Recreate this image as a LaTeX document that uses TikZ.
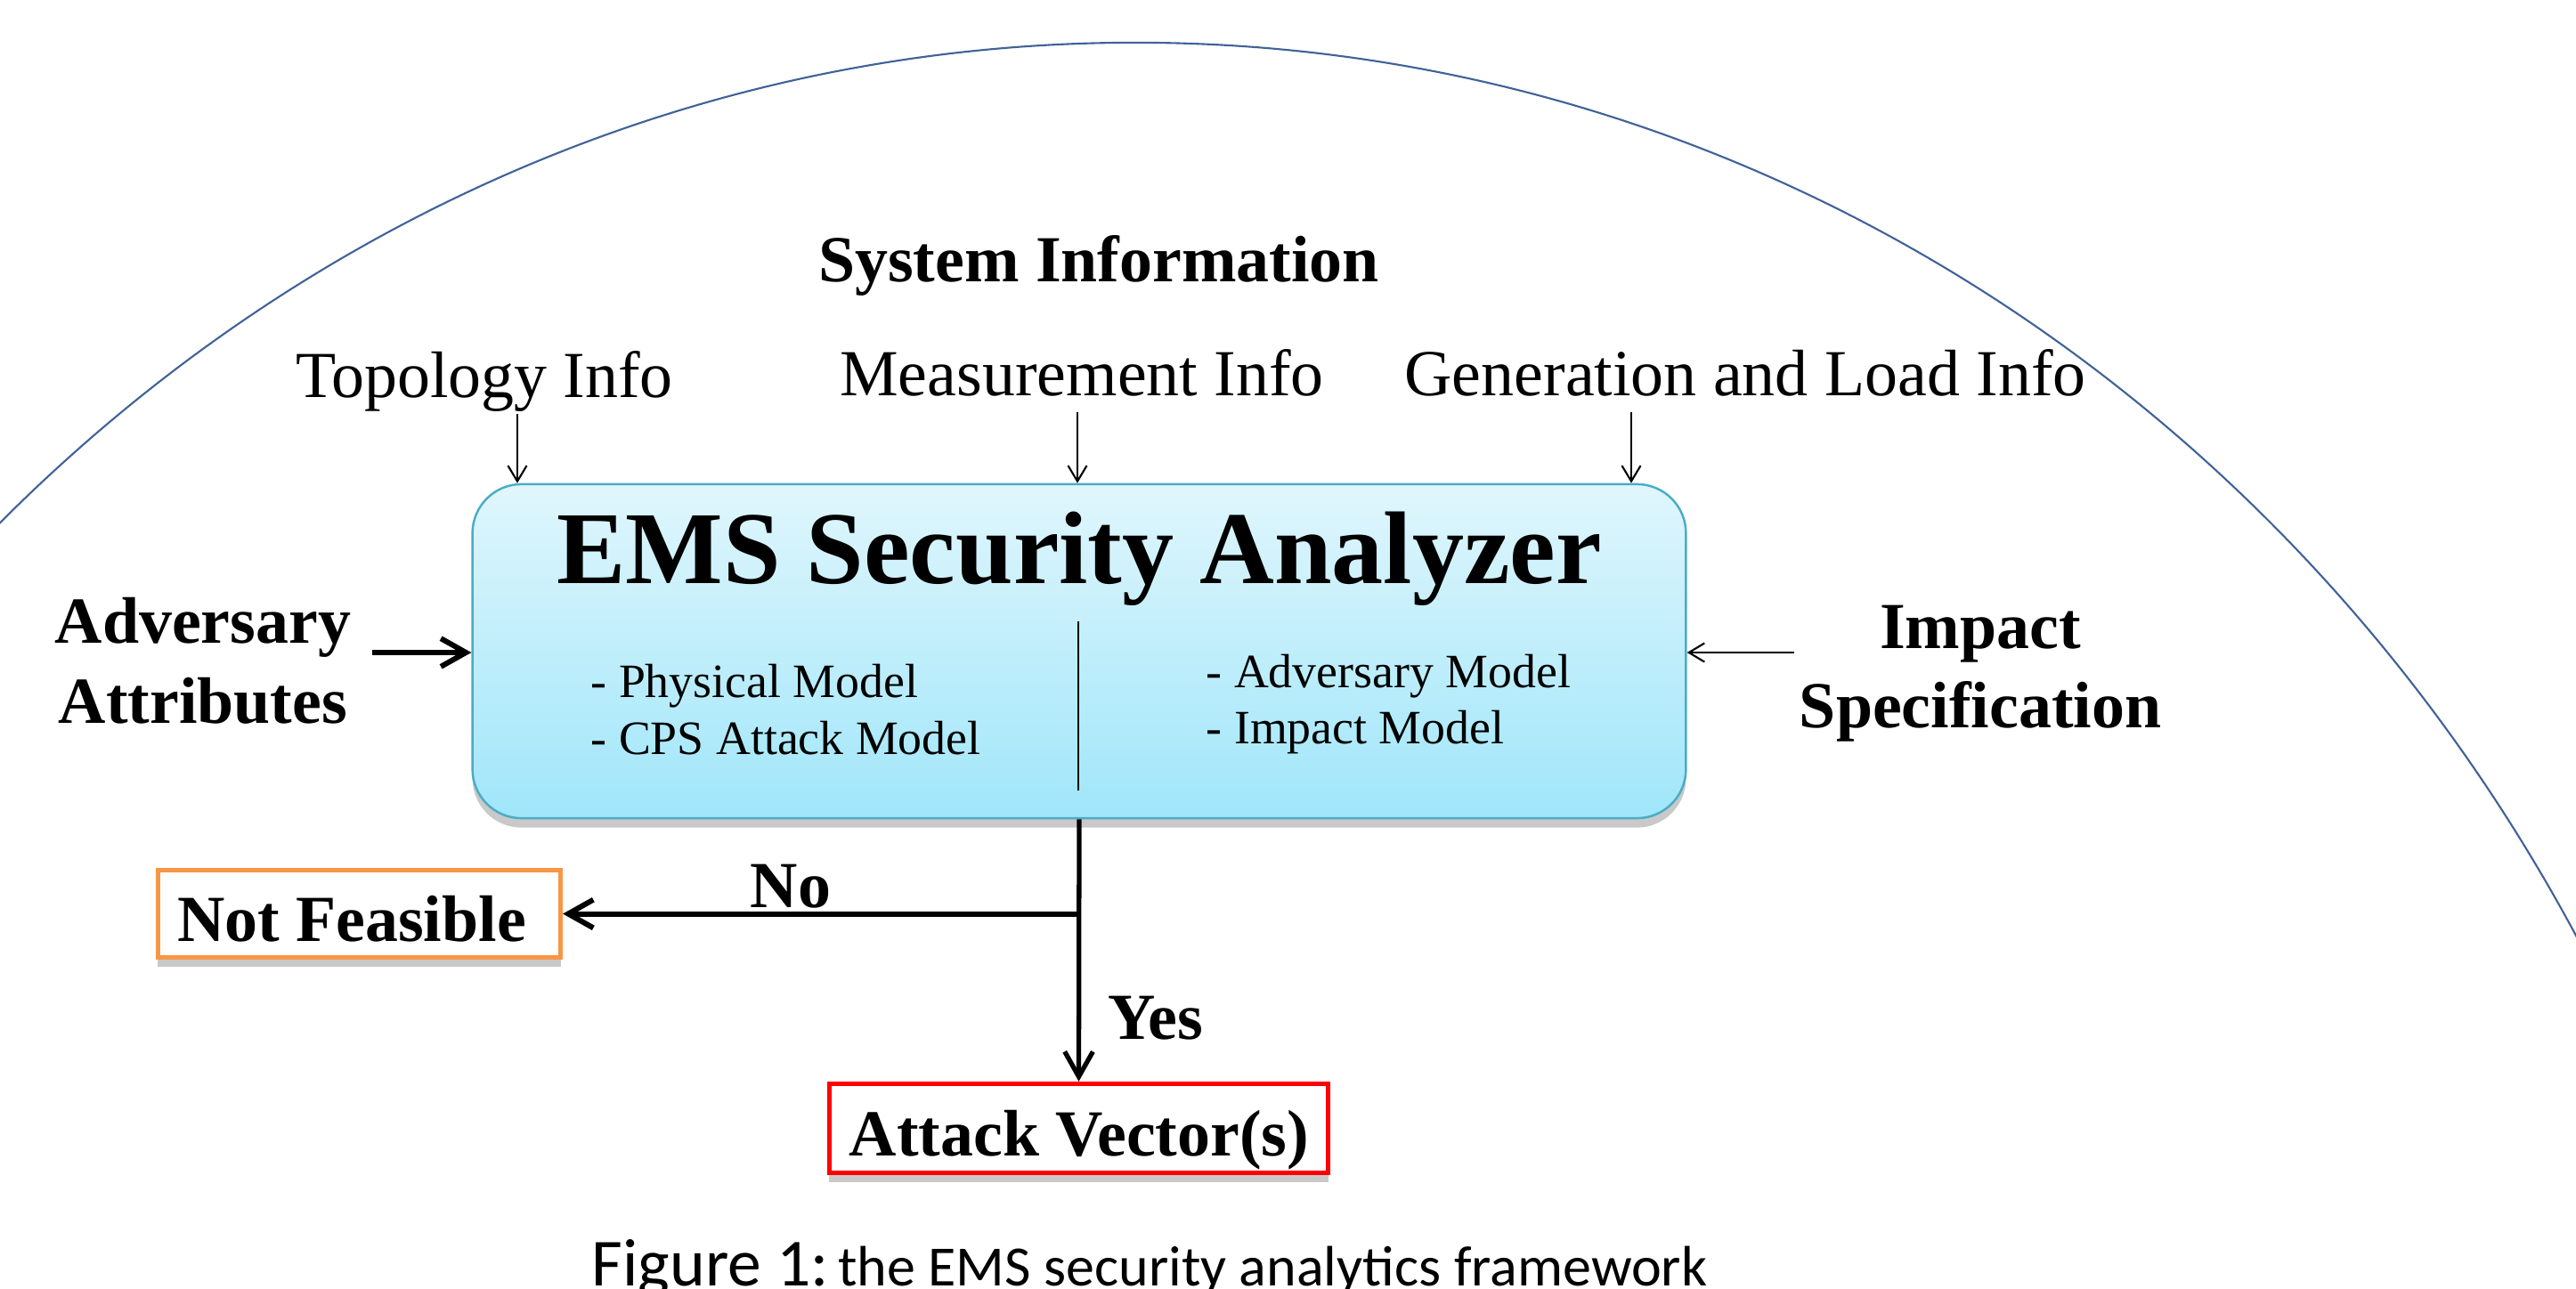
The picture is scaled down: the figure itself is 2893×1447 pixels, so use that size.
\documentclass[tikz,border=0pt]{standalone}
\usepackage{fontspec}
\setmainfont{Liberation Serif}
\newfontfamily\capfont{Carlito}
\usetikzlibrary{arrows.meta,shadows}
\definecolor{arcblue}{RGB}{64,98,152}
\definecolor{boxtop}{RGB}{224,246,252}
\definecolor{boxbot}{RGB}{160,230,250}
\definecolor{boxline}{RGB}{75,172,198}
\definecolor{nforange}{RGB}{247,150,70}
\begin{document}
\begin{tikzpicture}[x=0.01cm,y=-0.01cm,
  lab/.style={font=\fontsize{21}{25.6}\selectfont, inner sep=0pt, anchor=base},
  blab/.style={font=\bfseries\fontsize{21}{25.6}\selectfont, inner sep=0pt, anchor=base},
  item/.style={font=\fontsize{15.3}{18}\selectfont, inner sep=0pt, anchor=base west},
  thinarrow/.style={-{Straight Barb[length=5pt,width=6pt]}, line width=0.6pt},
  thickarrow/.style={-{Straight Barb[length=8pt,width=9pt]}, line width=1.7pt},
  softshadow/.style={drop shadow={shadow xshift=0pt,shadow yshift=-3pt,opacity=0.3,fill=black!70}},
  outbox/.style={draw, fill=white, inner sep=0pt, softshadow},
]
\useasboundingbox (0,0) rectangle (2893,1447);
\begin{scope}
\clip (0,0) rectangle (2893,1447);
\draw[arcblue, line width=0.6pt] (1275,2042) ellipse [x radius=18.63cm, y radius=19.93cm];
\end{scope}

% main analyzer box
\node[draw=boxline, line width=0.7pt, rounded corners=0.55cm, top color=boxtop, bottom color=boxbot,
      minimum width=13.62cm, minimum height=3.75cm, inner sep=0pt, softshadow] (ems) at (1212,731.5) {};
\node[font=\bfseries\fontsize{33}{40}\selectfont, anchor=base, inner sep=0pt] (title) at (1212,655) {EMS Security Analyzer};
\node[item] (phys) at (663,783) {- Physical Model};
\node[item] (cps) at (663,847) {- CPS Attack Model};
\node[item] (advm) at (1354,772) {- Adversary Model};
\node[item] (impm) at (1354,835) {- Impact Model};
\coordinate (dtop) at (1211,698);
\coordinate (dbot) at (1211,888);
\draw[line width=0.6pt] (dtop) -- (dbot);

% system information inputs
\node[blab] (sysinfo) at (1234,316) {System Information};
\node[lab] (topo) at (544,446) {Topology Info};
\node[lab] (meas) at (1215,444) {Measurement Info};
\node[lab] (gen) at (1960,444) {Generation and Load Info};
\coordinate (a1) at (581,465);
\coordinate (a2) at (1210,463);
\coordinate (a3) at (1832,463);
\draw[thinarrow] (a1) -- (a1 |- ems.north);
\draw[thinarrow] (a2) -- (a2 |- ems.north);
\draw[thinarrow] (a3) -- (a3 |- ems.north);

% side inputs
\node[blab] (adv1) at (228,722) {Adversary};
\node[blab] (adv2) at (228,812) {Attributes};
\coordinate (advtail) at (418,733);
\draw[thickarrow] (advtail) -- (advtail -| ems.west);
\node[blab] (imp1) at (2224,728) {Impact};
\node[blab] (imp2) at (2224,817) {Specification};
\coordinate (imptail) at (2015,733);
\draw[thinarrow] (imptail) -- (imptail -| ems.east);

% outcomes
\node[outbox, draw=nforange, line width=1.4pt, minimum width=4.52cm, minimum height=0.98cm] (nf) at (403.5,1026.5) {};
\node[blab] (nft) at (395,1057) {Not Feasible};
\node[outbox, draw=red, line width=1.5pt, minimum width=5.6cm, minimum height=1.0cm] (av) at (1211.5,1267.5) {};
\node[blab] (avt) at (1212,1298) {Attack Vector(s)};

\draw[thickarrow, line width=1.5pt] (ems.south) -- (av.north);
\coordinate (br) at (ems.south |- nf.east);
\draw[thickarrow] (br) -- (nf.east);
\node[blab] (no) at (888,1019) {No};
\node[blab] (yes) at (1298,1167) {Yes};

% caption
\node[anchor=base west, inner sep=0pt, font=\capfont] (cap) at (664,1444)
  {{\fontsize{21.5}{26}\selectfont Figure 1:} {\fontsize{18.2}{22}\selectfont the EMS security analytics framework}};
\end{tikzpicture}
\end{document}
